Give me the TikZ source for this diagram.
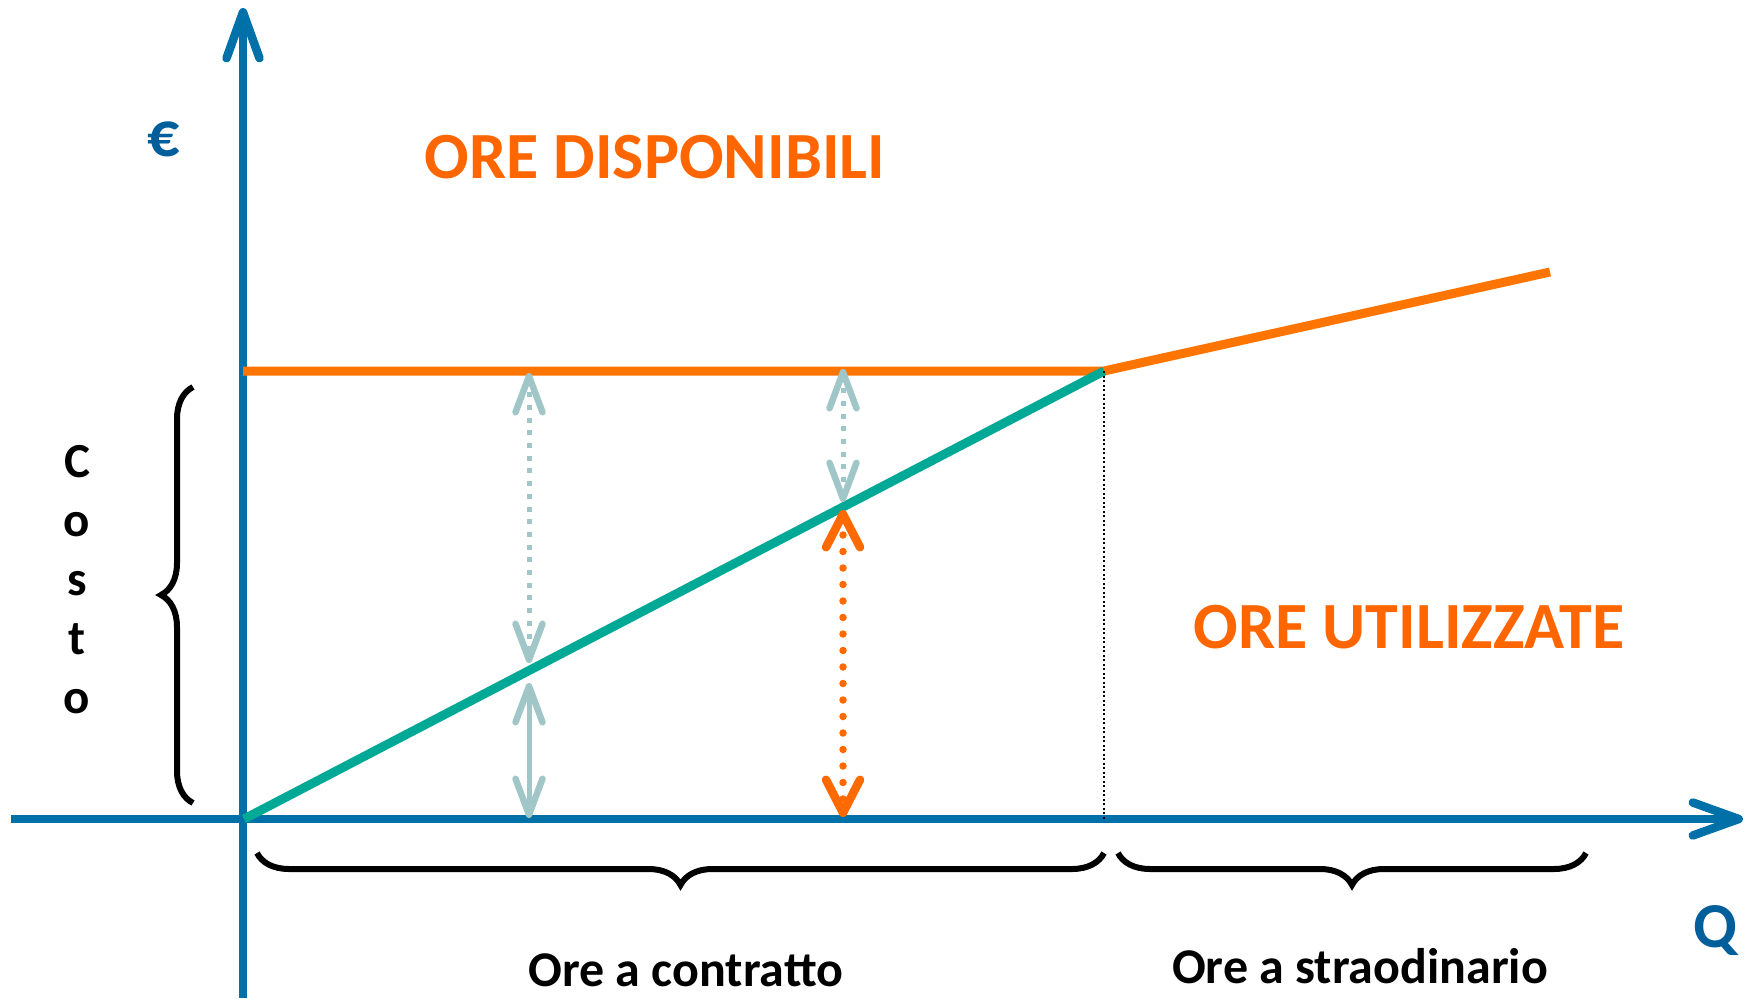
\documentclass[tikz,border=0pt]{standalone}
\usepackage{fontspec}
\setmainfont{Carlito}
\usetikzlibrary{arrows.meta,decorations.pathreplacing}
\definecolor{axblue}{RGB}{0,112,168}
\definecolor{txblue}{RGB}{0,94,154}
\definecolor{lnorange}{RGB}{255,117,0}
\definecolor{txorange}{RGB}{255,102,0}
\definecolor{arorange}{RGB}{255,106,0}
\definecolor{tealline}{RGB}{0,168,150}
\definecolor{lightteal}{RGB}{160,198,200}
\begin{document}
\begin{tikzpicture}[x=1pt,y=-1pt,
  axis/.style={draw=axblue,line width=8.5pt,-{Straight Barb[length=46pt,width=33pt,round,line width=8.5pt]}},
  costline/.style={line width=9pt},
  lightarr/.style={draw=lightteal,line width=5pt,{Straight Barb[length=36pt,width=27pt,round,line width=6.5pt]}-{Straight Barb[length=36pt,width=27pt,round,line width=6.5pt]}},
  lightdots/.style={dash pattern=on 5pt off 7.7pt},
  orangearr/.style={draw=arorange,line width=7.5pt,line cap=round,dash pattern=on 0pt off 16.5pt,{Straight Barb[length=33pt,width=34pt,round,line width=8.5pt]}-{Straight Barb[length=33pt,width=34pt,round,line width=8.5pt]}},
  bracestyle/.style={draw=black,line width=6pt,decorate,decoration={brace,amplitude=32pt}},
  bigorange/.style={text=txorange,font=\fontsize{66pt}{70pt}\selectfont\bfseries,anchor=base,inner sep=0pt},
  axlabel/.style={text=txblue,font=\fontsize{64pt}{68pt}\selectfont\bfseries,anchor=base,inner sep=0pt},
  smalllabel/.style={text=black,font=\fontsize{50pt}{54pt}\selectfont\bfseries,anchor=base,inner sep=0pt},
  letter/.style={text=black,font=\fontsize{49pt}{52pt}\selectfont\bfseries,anchor=base,inner sep=0pt}
]
\useasboundingbox (0,0) rectangle (1744,998);
% coordinates
\coordinate (Y0) at (243,998);
\coordinate (Y1) at (243,8);
\coordinate (X0) at (11,819);
\coordinate (X1) at (1743,819);
\coordinate (O) at (244,819);
\coordinate (H0) at (243,371);
\coordinate (K) at (1104,371);
\coordinate (KB) at (1104,819);
\coordinate (E) at (1550,272);
\coordinate (A1t) at (529,373);
\coordinate (A1b) at (529,663);
\coordinate (A2t) at (529,683);
\coordinate (A2b) at (529,818);
\coordinate (A3t) at (843,369);
\coordinate (A3b) at (843,502);
\coordinate (A4t) at (843,510);
\coordinate (A4b) at (843,817);
\coordinate (BLt) at (193,387);
\coordinate (BLb) at (193,803);
\coordinate (B1l) at (257,853);
\coordinate (B1r) at (1104,853);
\coordinate (B2l) at (1118,853);
\coordinate (B2r) at (1586,853);
% axes
\draw[axis] (Y0) -- (Y1);
\draw[axis] (X0) -- (X1);
% cost lines
\draw[costline,draw=lnorange] (H0) -- (K) -- (E);
\draw[costline,draw=tealline] (O) -- (K);
\draw[black,line width=2pt,dash pattern=on 2pt off 2.5pt] (K) -- (KB);
% arrows
\draw[lightarr,lightdots] (A1t) -- (A1b);
\draw[lightarr] (A2t) -- (A2b);
\draw[lightarr,lightdots] (A3t) -- (A3b);
\draw[orangearr] (A4t) -- (A4b);
% braces
\draw[bracestyle] (BLb) -- (BLt);
\draw[bracestyle] (B1r) -- (B1l);
\draw[bracestyle] (B2r) -- (B2l);
% labels
\node[axlabel] (euro) at (164,156) {€};
\node[axlabel] (q) at (1715,947) {Q};
\node[bigorange] (disp) at (655,178) {ORE DISPONIBILI};
\node[bigorange] (util) at (1409,648) {ORE UTILIZZATE};
\node[smalllabel] (contr) at (686,986) {Ore a contratto};
\node[smalllabel] (strao) at (1360,983) {Ore a straodinario};
\node[letter] (c1) at (77,477) {C};
\node[letter] (c2) at (77,536) {o};
\node[letter] (c3) at (77,595) {s};
\node[letter] (c4) at (77,654) {t};
\node[letter] (c5) at (77,713) {o};
\end{tikzpicture}
\end{document}
